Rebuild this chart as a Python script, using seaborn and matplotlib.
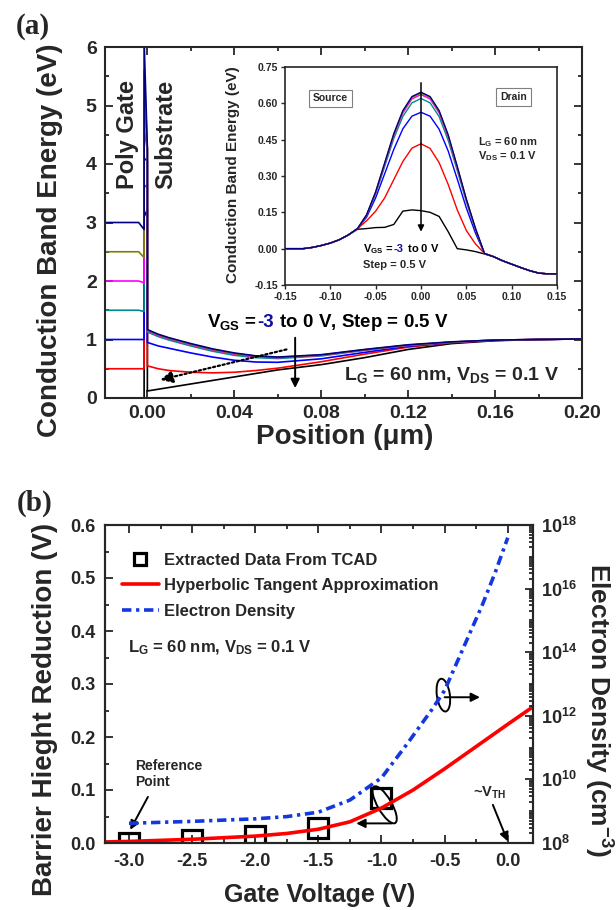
import numpy as np
import pandas as pd
import seaborn as sns
import matplotlib.pyplot as plt
import matplotlib.transforms as mtransforms
from matplotlib.patches import Ellipse
from matplotlib.ticker import MultipleLocator, FixedLocator, LogLocator, FuncFormatter, NullFormatter

# ---------------- (a) conduction band along the gate cut ----------------
vgs = ["-3.0", "-2.5", "-2.0", "-1.5", "-1.0", "-0.5", "0.0"]
line_colors = ["#000080", "#808000", "#ff00ff", "#008b8b", "#0000ff", "#ff0000", "#000000"]

gate_level = [3.0, 2.5, 2.0, 1.5, 1.0, 0.5, 0.0]      # eV in the poly gate
gate_dip = [0.12, 0.10, 0.03, 0.02, 0.0, 0.0, 0.0]     # small bend at gate/oxide edge
oxide_barrier = 3.1
x_gate = [-0.02, -0.004, -0.0015]
x_ox = [-0.0015, 0.0]

x_sub = [0.0, 0.005, 0.01, 0.02, 0.03, 0.04, 0.05, 0.06, 0.08, 0.10, 0.12, 0.14, 0.16, 0.18, 0.20]
ec_sub_m30 = [1.17, 1.09, 1.03, 0.93, 0.84, 0.77, 0.72, 0.70, 0.74, 0.83, 0.91, 0.96, 0.99, 1.00, 1.01]
ec_sub_m25 = [1.16, 1.08, 1.02, 0.92, 0.83, 0.76, 0.715, 0.695, 0.735, 0.825, 0.905, 0.955, 0.99, 1.00, 1.01]
ec_sub_m20 = [1.15, 1.07, 1.01, 0.91, 0.82, 0.75, 0.705, 0.69, 0.73, 0.82, 0.90, 0.955, 0.99, 1.00, 1.01]
ec_sub_m15 = [1.13, 1.05, 0.99, 0.89, 0.80, 0.73, 0.69, 0.675, 0.72, 0.815, 0.90, 0.955, 0.99, 1.00, 1.01]
ec_sub_m10 = [0.95, 0.89, 0.85, 0.77, 0.70, 0.645, 0.615, 0.61, 0.67, 0.78, 0.885, 0.95, 0.985, 1.00, 1.01]
ec_sub_m05 = [0.55, 0.50, 0.47, 0.44, 0.43, 0.44, 0.47, 0.51, 0.62, 0.75, 0.87, 0.945, 0.985, 1.00, 1.01]
ec_sub_00 = [0.12, 0.15, 0.18, 0.24, 0.30, 0.36, 0.42, 0.48, 0.57, 0.69, 0.83, 0.93, 0.98, 1.00, 1.01]

# inset: lateral profile along the channel
x_in = [-0.15, -0.14, -0.13, -0.12, -0.11, -0.10, -0.09, -0.08, -0.07, -0.06, -0.05,
        -0.04, -0.03, -0.02, -0.01, 0.0, 0.01, 0.02, 0.03, 0.04, 0.05, 0.06, 0.07,
        0.08, 0.09, 0.10, 0.11, 0.12, 0.13, 0.14, 0.15]
ec_in_m30 = [0.0, 0.0, 0.0, 0.005, 0.013, 0.023, 0.037, 0.057, 0.083, 0.14, 0.235, 0.355, 0.475,
             0.57, 0.628, 0.646, 0.628, 0.57, 0.47, 0.34, 0.205, 0.085, -0.02,
             -0.033, -0.05, -0.064, -0.078, -0.091, -0.101, -0.104, -0.104]
ec_in_m25 = [0.0, 0.0, 0.0, 0.005, 0.013, 0.023, 0.037, 0.057, 0.083, 0.139, 0.233, 0.352, 0.471,
             0.566, 0.624, 0.642, 0.624, 0.566, 0.466, 0.336, 0.202, 0.083, -0.02,
             -0.033, -0.05, -0.064, -0.078, -0.091, -0.101, -0.104, -0.104]
ec_in_m20 = [0.0, 0.0, 0.0, 0.005, 0.013, 0.023, 0.037, 0.057, 0.083, 0.138, 0.23, 0.348, 0.466,
             0.56, 0.618, 0.636, 0.618, 0.56, 0.46, 0.332, 0.20, 0.082, -0.02,
             -0.033, -0.05, -0.064, -0.078, -0.091, -0.101, -0.104, -0.104]
ec_in_m15 = [0.0, 0.0, 0.0, 0.005, 0.013, 0.023, 0.037, 0.057, 0.083, 0.136, 0.226, 0.34, 0.455,
             0.546, 0.602, 0.62, 0.602, 0.545, 0.447, 0.322, 0.194, 0.08, -0.02,
             -0.033, -0.05, -0.064, -0.078, -0.091, -0.101, -0.104, -0.104]
ec_in_m10 = [0.0, 0.0, 0.0, 0.005, 0.013, 0.023, 0.037, 0.057, 0.083, 0.13, 0.21, 0.31, 0.41,
             0.495, 0.547, 0.563, 0.547, 0.493, 0.403, 0.287, 0.168, 0.065, -0.02,
             -0.033, -0.05, -0.064, -0.078, -0.091, -0.101, -0.104, -0.104]
ec_in_m05 = [0.0, 0.0, 0.0, 0.005, 0.013, 0.023, 0.037, 0.057, 0.083, 0.115, 0.155, 0.21, 0.285,
             0.36, 0.415, 0.433, 0.414, 0.355, 0.265, 0.16, 0.075, 0.02, -0.02,
             -0.033, -0.05, -0.064, -0.078, -0.091, -0.101, -0.104, -0.104]
ec_in_00 = [0.0, 0.0, 0.0, 0.005, 0.013, 0.023, 0.037, 0.057, 0.08, 0.083, 0.087, 0.088, 0.10,
            0.155, 0.16, 0.157, 0.15, 0.133, 0.07, 0.0, -0.005, -0.012, -0.022,
            -0.033, -0.05, -0.064, -0.078, -0.091, -0.101, -0.104, -0.104]

# ---------------- (b) barrier height reduction ----------------
v_tcad = [-3.0, -2.5, -2.0, -1.5, -1.0]
dphi_tcad = [0.0, 0.005, 0.013, 0.028, 0.084]
v_fit = [-3.19, -3.0, -2.75, -2.5, -2.25, -2.0, -1.75, -1.5, -1.25, -1.0, -0.75, -0.5, -0.25, 0.0, 0.2]
dphi_fit = [0.002, 0.003, 0.005, 0.007, 0.01, 0.013, 0.018, 0.026, 0.04, 0.066, 0.10, 0.14, 0.182, 0.224, 0.257]
v_n = [-3.0, -2.5, -2.0, -1.75, -1.5, -1.25, -1.0, -0.8, -0.6, -0.5, -0.4, -0.3, -0.2, -0.1, 0.0]
log_n = [8.62, 8.68, 8.76, 8.83, 8.97, 9.35, 10.05, 11.1, 12.2, 12.8, 13.7, 14.6, 15.5, 16.5, 17.6]

# ---------------- style ----------------
sns.set_style("ticks")
plt.rcParams["font.family"] = ["Liberation Sans", "DejaVu Sans"]
plt.rcParams["font.weight"] = "bold"
plt.rcParams["axes.labelweight"] = "bold"
plt.rcParams["axes.unicode_minus"] = False
plt.rcParams["mathtext.fontset"] = "custom"
for k in ["rm", "it", "bf", "sf"]:
    plt.rcParams["mathtext." + k] = "Liberation Sans:bold"

fig = plt.figure(figsize=(6.16, 9.10), dpi=100)
W, H = 616, 910


def px_axes(x0, y0, x1, y1):
    return fig.add_axes([x0 / W, 1 - y1 / H, (x1 - x0) / W, (y1 - y0) / H])


def fmt(d):
    return FuncFormatter(lambda v, p: f"{0.0 if abs(v) < 1e-9 else v:.{d}f}")


def style_axes(ax, size):
    ax.tick_params(which="both", direction="in", width=1.3, labelsize=size)
    ax.tick_params(which="major", length=6, pad=6)
    ax.tick_params(which="minor", length=3)
    for s in ax.spines.values():
        s.set_linewidth(1.5)
        s.set_visible(True)


def color_text(ax, x, y, pieces, size):
    # pieces of one line, each with its own colour
    renderer = fig.canvas.get_renderer()
    trans = ax.transData
    for s, c in pieces:
        t = ax.text(x, y, s, color=c, fontsize=size, transform=trans, va="baseline", ha="left")
        w = t.get_window_extent(renderer).width
        trans = mtransforms.offset_copy(t.get_transform(), x=w, units="dots")


def loop(ax, xy, w, h, angle):
    tr = fig.dpi_scale_trans + mtransforms.ScaledTranslation(xy[0], xy[1], ax.transData)
    ax.add_patch(Ellipse((0, 0), w / 100, h / 100, angle=angle, fill=False, ec="k",
                         lw=1.4, transform=tr, clip_on=False))


arrow = dict(arrowstyle="-|>", color="k", lw=1.4, mutation_scale=13, shrinkA=0, shrinkB=0)

# ---------------- panel (a) ----------------
ax_a = px_axes(105, 47, 582, 398)
palette = dict(zip(vgs, line_colors))

rows = []
for v, lvl, dip, sub in zip(vgs, gate_level, gate_dip,
                            [ec_sub_m30, ec_sub_m25, ec_sub_m20, ec_sub_m15, ec_sub_m10, ec_sub_m05, ec_sub_00]):
    xs = x_gate + x_ox + x_sub
    ys = [lvl, lvl, lvl - dip, lvl + oxide_barrier, sub[0] + oxide_barrier] + sub
    rows.append(pd.DataFrame({"x": xs, "ec": ys, "vgs": v}))
df_a = pd.concat(rows, ignore_index=True)

sns.lineplot(data=df_a, x="x", y="ec", hue="vgs", hue_order=vgs[::-1], palette=palette,
             sort=False, estimator=None, lw=1.2, legend=False, ax=ax_a)

ax_a.set_xlim(-0.0195, 0.2)
ax_a.set_ylim(0, 6)
ax_a.xaxis.set_major_locator(MultipleLocator(0.04))
ax_a.xaxis.set_minor_locator(MultipleLocator(0.02))
ax_a.yaxis.set_major_locator(MultipleLocator(1))
ax_a.yaxis.set_minor_locator(MultipleLocator(0.5))
ax_a.xaxis.set_major_formatter(fmt(2))
ax_a.yaxis.set_major_formatter(fmt(0))
style_axes(ax_a, 14)
ax_a.tick_params(which="both", top=True, right=True)
ax_a.tick_params(axis="x", which="major", pad=5)

ax_a.set_xlabel("Position (μm)", fontsize=20, va="center")
ax_a.xaxis.set_label_coords(0.503, -0.112)
ax_a.set_ylabel("Conduction Band Energy (eV)", fontsize=20, va="center")
ax_a.yaxis.set_label_coords(-0.115, 0.45)

ax_a.text(-0.0092, 4.5, "Poly Gate", rotation=90, fontsize=17, ha="center", va="center")
ax_a.text(0.0085, 4.5, "Substrate", rotation=90, fontsize=17, ha="center", va="center")

ax_a.annotate("", xy=(0.068, 0.17), xytext=(0.068, 1.03), arrowprops=arrow)
ax_a.annotate("", xy=(0.006, 0.31), xytext=(0.064, 0.83),
              arrowprops=dict(arrowstyle="-|>", color="k", lw=1.6, linestyle=(0, (1, 1.2)),
                              mutation_scale=18, shrinkA=0, shrinkB=0))

color_text(ax_a, 0.0276, 1.22, [("V$_{\\rm GS}$ = ", "black"), ("-3", "#1010a0"),
                                 ("$\\ $to 0 V, Step = 0.5 V", "black")], 13.5)
ax_a.text(0.0906, 0.31, "L$_{\\rm G}$ = 60 nm, V$_{\\rm DS}$ = 0.1 V", fontsize=14, va="baseline")

fig.text(33 / W, 1 - 27 / H, "(a)", fontsize=21, family="Liberation Serif", fontweight="bold",
         ha="center", va="center")

# inset
ax_in = px_axes(285, 67, 557, 285)
in_rows = []
for v, ec in zip(vgs, [ec_in_m30, ec_in_m25, ec_in_m20, ec_in_m15, ec_in_m10, ec_in_m05, ec_in_00]):
    in_rows.append(pd.DataFrame({"x": x_in, "ec": ec, "vgs": v}))
df_in = pd.concat(in_rows, ignore_index=True)
sns.lineplot(data=df_in, x="x", y="ec", hue="vgs", hue_order=vgs[::-1], palette=palette,
             sort=False, estimator=None, lw=1.0, legend=False, ax=ax_in)
ax_in.set_xlim(-0.15, 0.15)
ax_in.set_ylim(-0.15, 0.75)
ax_in.xaxis.set_major_locator(MultipleLocator(0.05))
ax_in.yaxis.set_major_locator(MultipleLocator(0.15))
ax_in.xaxis.set_major_formatter(fmt(2))
ax_in.yaxis.set_major_formatter(fmt(2))
ax_in.tick_params(which="both", direction="out", length=3, width=1, labelsize=7.5, pad=2)
for s in ax_in.spines.values():
    s.set_linewidth(1.2)
    s.set_visible(True)
ax_in.set_xlabel("")
ax_in.set_ylabel("Conduction Band Energy (eV)", fontsize=11, va="center")
ax_in.yaxis.set_label_coords(-0.19, 0.505)

box = dict(boxstyle="square,pad=0.35", fc="white", ec="0.5", lw=0.8)
ax_in.text(-0.10, 0.62, "Source", fontsize=7.5, ha="center", va="center", bbox=box)
ax_in.text(0.102, 0.626, "Drain", fontsize=7.5, ha="center", va="center", bbox=box)
ax_in.text(0.063, 0.427, "L$_{\\rm G}$ = 60 nm", fontsize=8, va="baseline")
ax_in.text(0.063, 0.37, "V$_{\\rm DS}$ = 0.1 V", fontsize=8, va="baseline")
ax_in.annotate("", xy=(0.0, 0.07), xytext=(0.0, 0.685),
               arrowprops=dict(arrowstyle="-|>", color="k", lw=1.1, mutation_scale=9, shrinkA=0, shrinkB=0))
color_text(ax_in, -0.0635, -0.0126, [("V$_{\\rm GS}$ = ", "black"), ("-3", "#1010a0"),
                                      ("$\\ $to 0 V", "black")], 8)
ax_in.text(-0.0635, -0.081, "Step = 0.5 V", fontsize=8, va="baseline")

# ---------------- panel (b) ----------------
ax_b = px_axes(105, 525, 533, 843)
ax_b2 = ax_b.twinx()

sns.lineplot(x=v_tcad, y=dphi_tcad, marker="s", linestyle="none", color="black",
             markersize=15, markerfacecolor="none", markeredgecolor="black", markeredgewidth=2.3,
             label="Extracted Data From TCAD", ax=ax_b)
sns.lineplot(x=v_fit, y=dphi_fit, color="#ff0000", lw=2.6,
             label="Hyperbolic Tangent Approximation", ax=ax_b)
electron_density = 10.0 ** np.array(log_n)
sns.lineplot(x=v_n, y=electron_density, color="#1438e0", lw=2.6,
             linestyle=(0, (2.6, 1.3, 0.9, 1.3)), label="Electron Density", ax=ax_b2)

ax_b.set_xlim(-3.19, 0.2)
ax_b.set_ylim(0, 0.6)
ax_b.xaxis.set_major_locator(MultipleLocator(0.5))
ax_b.xaxis.set_minor_locator(MultipleLocator(0.25))
ax_b.yaxis.set_major_locator(MultipleLocator(0.1))
ax_b.yaxis.set_minor_locator(MultipleLocator(0.05))
ax_b.xaxis.set_major_formatter(fmt(1))
ax_b.yaxis.set_major_formatter(fmt(1))
style_axes(ax_b, 13)
ax_b.tick_params(which="both", top=True, right=False)
ax_b.tick_params(which="major", pad=7)

ax_b2.set_yscale("log")
ax_b2.set_ylim(1e8, 1e18)
ax_b2.yaxis.set_major_locator(FixedLocator([1e8, 1e10, 1e12, 1e14, 1e16, 1e18]))
ax_b2.yaxis.set_minor_locator(LogLocator(base=10, subs=np.arange(1, 10), numticks=60))
ax_b2.yaxis.set_minor_formatter(NullFormatter())
ax_b2.yaxis.set_major_formatter(FuncFormatter(lambda v, p: "10$^{%d}$" % round(np.log10(v))))
style_axes(ax_b2, 13)
ax_b2.tick_params(which="major", pad=6)

ax_b.set_xlabel("Gate Voltage (V)", fontsize=18, va="center")
ax_b.xaxis.set_label_coords(0.502, -0.164)
ax_b.set_ylabel("Barrier Hieght Reduction (V)", fontsize=20, va="center")
ax_b.yaxis.set_label_coords(-0.14, 0.42)
ax_b2.set_ylabel("Electron Density (cm$^{-3}$)", fontsize=19, rotation=270, va="center")
ax_b2.yaxis.set_label_coords(1.152, 0.42)

h1, l1 = ax_b.get_legend_handles_labels()
h2, l2 = ax_b2.get_legend_handles_labels()
if ax_b.get_legend() is not None:
    ax_b.get_legend().remove()
ax_b2.legend(h1 + h2, l1 + l2, loc="upper left", bbox_to_anchor=(0.04, 0.912), frameon=False,
             fontsize=12, handlelength=2.2, handletextpad=0.3, labelspacing=0.62,
             borderpad=0, borderaxespad=0, markerscale=0.55)

ax_b.text(-3.008, 0.36, "L$_{\\rm G}$ = 60 nm, V$_{\\rm DS}$ = 0.1 V", fontsize=12, va="baseline")
ax_b.text(-2.95, 0.13, "Reference\nPoint", fontsize=10, va="center", linespacing=1.25)
ax_b.annotate("", xy=(-2.99, 0.025), xytext=(-2.85, 0.087), arrowprops=arrow)
ax_b.text(-0.276, 0.087, "~V$_{\\rm TH}$", fontsize=10.5, va="baseline")
ax_b.annotate("", xy=(0.0, 0.003), xytext=(-0.118, 0.072), arrowprops=arrow)

loop(ax_b, (-0.51, 0.279), 13, 33, 8)
ax_b.annotate("", xy=(-0.22, 0.275), xytext=(-0.50, 0.275), arrowprops=arrow)
loop(ax_b, (-0.975, 0.072), 14, 42, 30)
ax_b.annotate("", xy=(-1.2, 0.037), xytext=(-0.92, 0.037), arrowprops=arrow)

fig.text(35 / W, 1 - 503 / H, "(b)", fontsize=21, family="Liberation Serif", fontweight="bold",
         ha="center", va="center")

fig.savefig("out.png", dpi=100)
